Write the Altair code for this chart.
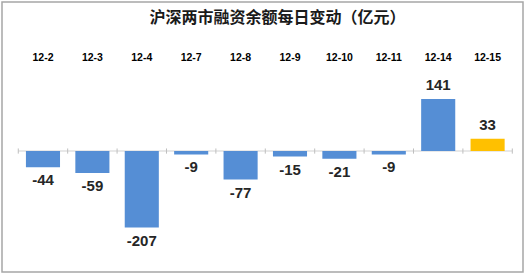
import altair as alt
import pandas as pd

dates = ["12-2", "12-3", "12-4", "12-7", "12-8", "12-9", "12-10", "12-11", "12-14", "12-15"]
changes = [-44, -59, -207, -9, -77, -15, -21, -9, 141, 33]
latest = [False, False, False, False, False, False, False, False, False, True]
title_text = "沪深两市融资余额每日变动（亿元）"

df = pd.DataFrame({"date": dates, "change": changes, "latest": latest})
df["label"] = [str(v) for v in changes]
df["zero"] = 0
df["tick_lo"] = -7
df["tick_hi"] = 7

W, H = 521, 270
P_INNER = 0.31
P_OUTER = 0.428
ALIGN = 0.566
STEP = W / (len(dates) - P_INNER + 2 * P_OUTER)

BLUE = "#558ED5"
GOLD = "#FFC000"
AXIS_GRAY = "#BFBFBF"
LABEL_FONT = "Liberation Sans"

xscale = alt.Scale(domain=dates, paddingInner=P_INNER, paddingOuter=P_OUTER, align=ALIGN)
yscale = alt.Scale(domain=[-327, 403], nice=False, zero=False)

base = alt.Chart(df)

xaxis = alt.Axis(
    orient="top",
    offset=-60,
    domain=False,
    ticks=False,
    labelPadding=0,
    labelAngle=0,
    labelFont=LABEL_FONT,
    labelFontSize=10.5,
    labelFontWeight="bold",
    labelColor="#000000",
    title=None,
)
xenc = alt.X("date:N", scale=xscale, axis=xaxis)
yenc = alt.Y("change:Q", scale=yscale, axis=None)

zero_line = base.mark_tick(
    color=AXIS_GRAY, thickness=1, size=STEP, orient="horizontal"
).encode(
    x=xenc,
    y=alt.Y("zero:Q", scale=yscale, axis=None),
)

ticks = base.mark_rule(color=AXIS_GRAY, strokeWidth=1, xOffset=-STEP / 2).encode(
    x=xenc,
    y=alt.Y("tick_lo:Q", scale=yscale, axis=None),
    y2="tick_hi:Q",
)
tick_end = base.transform_filter("datum.latest").mark_rule(
    color=AXIS_GRAY, strokeWidth=1, xOffset=STEP / 2
).encode(
    x=xenc,
    y=alt.Y("tick_lo:Q", scale=yscale, axis=None),
    y2="tick_hi:Q",
)

bars = base.mark_bar().encode(
    x=xenc,
    y=yenc,
    y2="zero:Q",
    color=alt.condition("datum.latest", alt.value(GOLD), alt.value(BLUE)),
)

label_style = dict(font=LABEL_FONT, fontSize=15, fontWeight="bold", color="#262626")
neg_labels = base.transform_filter("datum.change < 0").mark_text(
    baseline="top", dy=6, **label_style
).encode(x=xenc, y=yenc, text="label:N")
pos_labels = base.transform_filter("datum.change >= 0").mark_text(
    baseline="alphabetic", dy=-8.5, **label_style
).encode(x=xenc, y=yenc, text="label:N")

chart = alt.layer(zero_line, ticks, tick_end, bars, neg_labels, pos_labels).properties(
    width=W,
    height=H,
    autosize=alt.AutoSizeParams(type="none"),
    padding={"left": 2, "top": 2, "right": 4, "bottom": 4},
    background="white",
    title=alt.TitleParams(
        text=title_text,
        font="Noto Sans CJK SC",
        fontSize=16,
        fontWeight="bold",
        color="#1A1A1A",
        anchor="middle",
        offset=-24,
        dx=15,
    ),
).configure_view(stroke="#A6A6A6", strokeWidth=1.5)

chart.save("out.html", embed_options={"renderer": "svg", "actions": False})
